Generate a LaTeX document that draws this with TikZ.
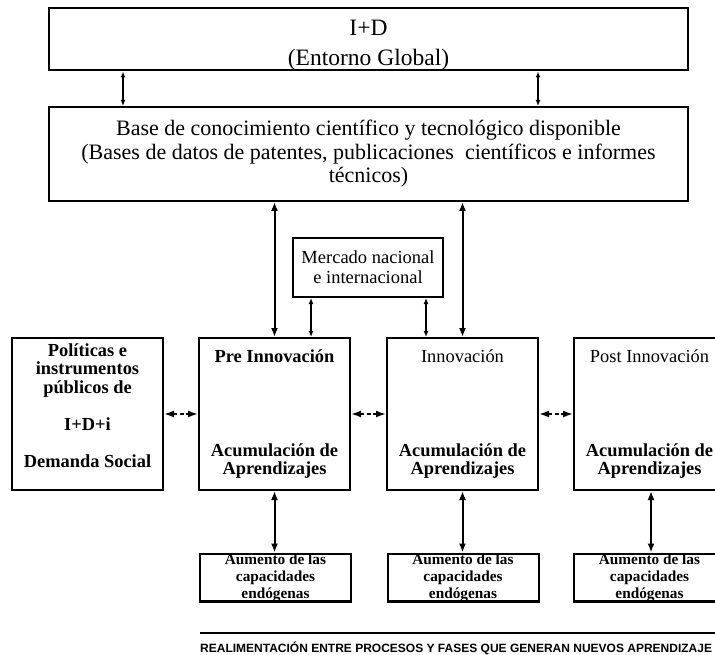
\documentclass[tikz,border=0pt]{standalone}
\usepackage{fontspec}
\setmainfont{Liberation Serif}
\newfontfamily\notefont{Liberation Sans}
\usetikzlibrary{arrows.meta,positioning}
\tikzset{%
	bigbox/.style   = {draw, rectangle, line width=2pt, minimum width=639pt, align=center},
	phase/.style    = {draw, rectangle, line width=2pt, minimum width=151pt, minimum height=152pt, align=center, font=\fontsize{18.4}{17.5}\selectfont},
	gain/.style     = {draw, rectangle, line width=2pt, minimum width=151pt, minimum height=47pt, inner sep=0pt, align=center, font=\bfseries\fontsize{15.3}{17}\selectfont},
	biarrow/.style  = {line width=2pt, {Latex[length=9pt,width=7pt]}-{Latex[length=9pt,width=7pt]}},
	minarrow/.style = {line width=1.8pt, {Latex[length=6pt,width=5pt]}-{Latex[length=6pt,width=5pt]}},
	feedarrow/.style= {line width=1.8pt, {Latex[length=10pt,width=7pt]}-{Latex[length=10pt,width=7pt]}, dash pattern=on 4pt off 2.5pt},
}

\begin{document}
\begin{tikzpicture}[x=1pt,y=-1pt]
		\useasboundingbox (0,0) rectangle (715,655);
		\clip (0,0) rectangle (715,655);
		% upper blocks
		\node[bigbox, minimum height=62pt] (glob) at (368.5,39.5) {};
		\node[align=center, font=\fontsize{23.5}{30}\selectfont] (globtxt) at (368.5,45) {I+D\\(Entorno Global)};
		\node[bigbox, minimum height=94pt, font=\fontsize{22}{23.5}\selectfont] (base) at (368.5,154) {Base de conocimiento científico y tecnológico disponible\\(Bases de datos de patentes, publicaciones \ científicos e informes\\técnicos)};
		\node[draw, line width=2pt, minimum width=150pt, minimum height=59pt, align=center, font=\fontsize{18.5}{20}\selectfont] (merc) at (368,267.5) {Mercado nacional\\e internacional};
		% phases
		\node[phase] (pol) at (87.5,414) {};
		\node[below=3pt of pol.north, align=center, font=\bfseries\fontsize{18.4}{18.5}\selectfont] (poltxt) {Políticas e\\instrumentos\\públicos de\\[18.5pt]I+D+i\\[18.5pt]Demanda Social};
		\node[phase] (pre) at (274.5,414) {\textbf{Pre Innovación}\\[76.5pt]\textbf{Acumulación de}\\\textbf{Aprendizajes}};
		\node[phase] (inn) at (462.5,414) {Innovación\\[76.5pt]\textbf{Acumulación de}\\\textbf{Aprendizajes}};
		\node[phase] (post) at (649.5,414) {Post Innovación\\[76.5pt]\textbf{Acumulación de}\\\textbf{Aprendizajes}};
		% capacities
		\node[gain] (gpre) at (275.5,577.5) {Aumento de las\\capacidades\\endógenas};
		\node[gain] (ginn) at (463,577.5) {Aumento de las\\capacidades\\endógenas};
		\node[gain] (gpost) at (649.5,577.5) {Aumento de las\\capacidades\\endógenas};
		% links
		\draw[minarrow] ([xshift=75pt]glob.south west) -- ([xshift=75pt]glob.south west |- base.north);
		\draw[minarrow] ([xshift=-151pt]glob.south east) -- ([xshift=-151pt]glob.south east |- base.north);
		\draw[biarrow] (pre.north |- base.south) -- (pre.north);
		\draw[biarrow] (inn.north |- base.south) -- (inn.north);
		\draw[minarrow] ([xshift=19pt]merc.south west) -- ([xshift=19pt]merc.south west |- pre.north);
		\draw[minarrow] ([xshift=-18pt]merc.south east) -- ([xshift=-18pt]merc.south east |- inn.north);
		\draw[feedarrow] (pol.east) -- (pre.west);
		\draw[feedarrow] (pre.east) -- (inn.west);
		\draw[feedarrow] (inn.east) -- (post.west);
		\draw[biarrow] (pre.south) -- (pre.south |- gpre.north);
		\draw[biarrow] (inn.south) -- (inn.south |- ginn.north);
		\draw[biarrow] ([xshift=1.5pt]post.south) -- ([xshift=1.5pt]post.south |- gpost.north);
		% note
		\coordinate (ruleL) at (200,633);
		\coordinate (ruleR) at (720,633);
		\draw[line width=2.5pt] (ruleL) -- (ruleR);
		\node[anchor=west, inner sep=0pt, font=\notefont\bfseries\fontsize{12}{14}\selectfont] (note) at (200,648) {REALIMENTACIÓN ENTRE PROCESOS Y FASES QUE GENERAN NUEVOS APRENDIZAJE};
		\end{tikzpicture}
\end{document}
